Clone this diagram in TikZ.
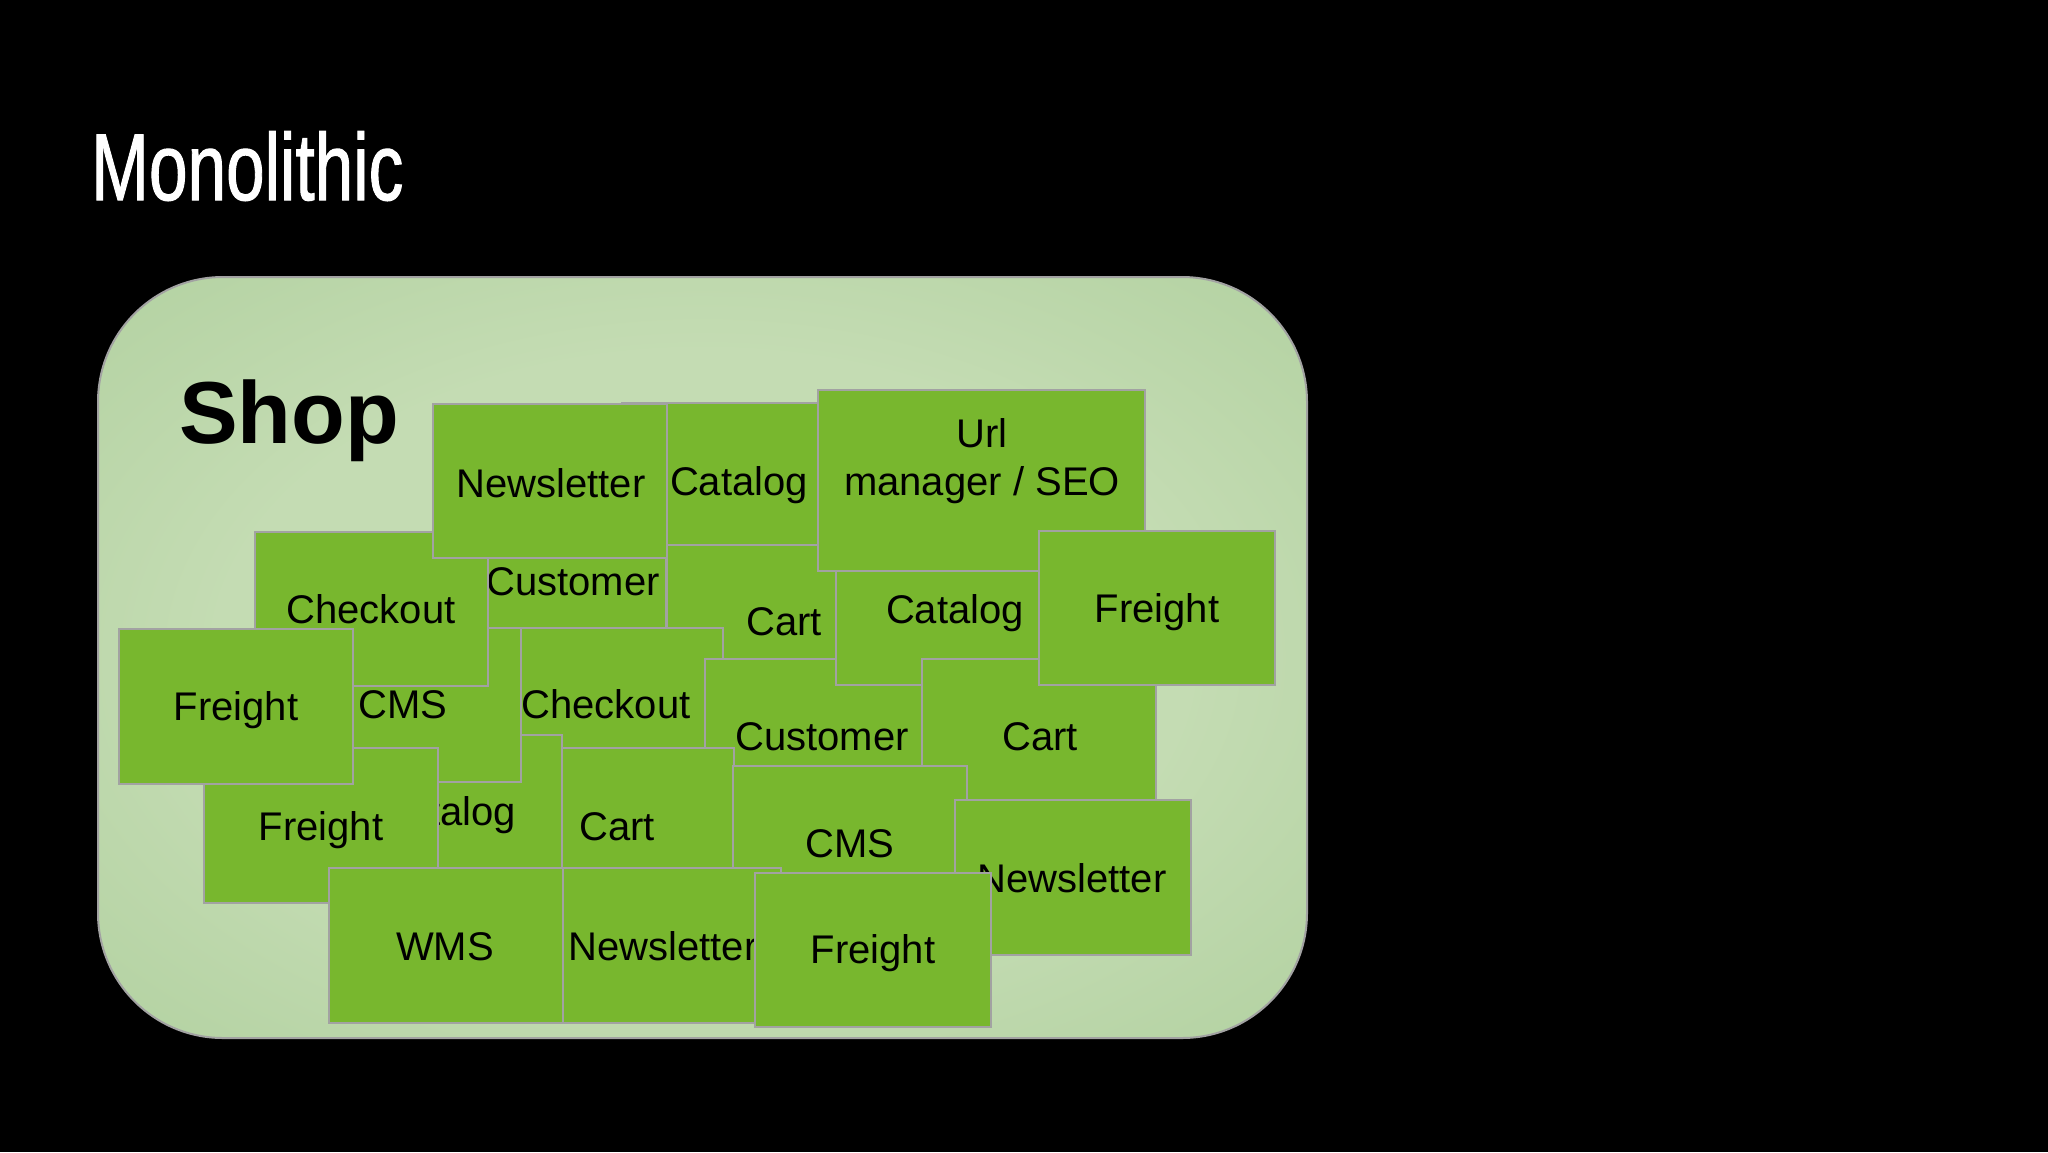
\documentclass[tikz,border=0pt]{standalone}
\usepackage{fontspec}
\usepackage{graphicx}
\setmainfont{Liberation Sans}
\newfontfamily\titlefont[FakeBold=1.3]{Liberation Sans}
\definecolor{boxgreen}{HTML}{78B72E}
\definecolor{boxline}{HTML}{A2A2A2}
\definecolor{shopin}{HTML}{C4DCB3}
\definecolor{shopmid}{HTML}{A3C891}
\definecolor{shopout}{HTML}{98C084}
\pgfdeclareradialshading{shopshade}{\pgfpoint{0bp}{0bp}}{color(0bp)=(shopin); color(20bp)=(shopin); color(50bp)=(shopmid); color(71bp)=(shopout); color(100bp)=(shopout)}
\tikzset{
  modbox/.style={draw=boxline, line width=2pt, fill=boxgreen},
  lbl/.style={font=\fontsize{40}{48}\selectfont, anchor=base, inner sep=0pt, text=black},
}
\newcommand\mymod[8]{%
  \path[modbox] (#2,#3) rectangle (#4,#5);
  \node[lbl] (#1) at (#6,#7) {#8};}
\begin{document}
\begin{tikzpicture}[x=1pt,y=-1pt]
\useasboundingbox (0,0) rectangle (2048,1152);
\fill[black] (0,0) rectangle (2048,1152);
% title
\node[anchor=base west, inner sep=0pt, text=white] (title) at (91,200)
  {\scalebox{0.73}[1]{\titlefont\fontsize{95}{100}\selectfont Monolithic}};
% shop container
\path[draw=boxline, line width=2pt, rounded corners=125pt, shading=shopshade]
  (98,277) rectangle (1307,1038);
\node[anchor=base west, inner sep=0pt, font=\fontsize{88}{96}\selectfont\bfseries] (shop) at (179,443) {Shop};
% modules, bottom to top
\mymod{catTop}{622}{403}{856}{545}{739}{495}{Catalog}
\mymod{custUp}{455}{504}{666}{658}{573}{595}{Customer}
\mymod{cartUp}{667}{545}{901}{699}{784}{635}{Cart}
\mymod{chkMid}{489}{628}{723}{782}{606}{718}{Checkout}
\mymod{custLow}{705}{659}{939}{813}{822}{750}{Customer}
\mymod{catRight}{836}{571}{1072}{685}{955}{623}{Catalog}
\mymod{cartRight}{922}{659}{1156}{813}{1040}{750}{Cart}
\mymod{cartLow}{500}{748}{734}{903}{617}{840}{Cart}
\mymod{catLow}{328}{735}{562}{889}{447}{825}{Catalog}
\mymod{cmsA}{287}{628}{521}{782}{403}{718}{CMS}
\mymod{chkUp}{255}{532}{488}{686}{371}{623}{Checkout}
\mymod{newsTop}{433}{404}{667}{558}{551}{497}{Newsletter}
\path[modbox] (818,390) rectangle (1145,571);
\node[lbl] (url1) at (982,447) {Url};
\node[lbl] (url2) at (982,495) {manager / SEO};
\mymod{frRight}{1039}{531}{1275}{685}{1157}{622}{Freight}
\mymod{cmsLow}{733}{766}{967}{920}{850}{857}{CMS}
\mymod{frLow}{204}{748}{438}{903}{321}{840}{Freight}
\mymod{frLeft}{119}{629}{353}{784}{236}{720}{Freight}
\mymod{wms}{329}{868}{563}{1023}{445}{960}{WMS}
\mymod{newsRight}{955}{800}{1191}{955}{1072}{892}{Newsletter}
\mymod{newsBot}{563}{868}{781}{1023}{663}{960}{Newsletter}
\mymod{frBot}{755}{873}{991}{1027}{873}{963}{Freight}
\end{tikzpicture}
\end{document}
